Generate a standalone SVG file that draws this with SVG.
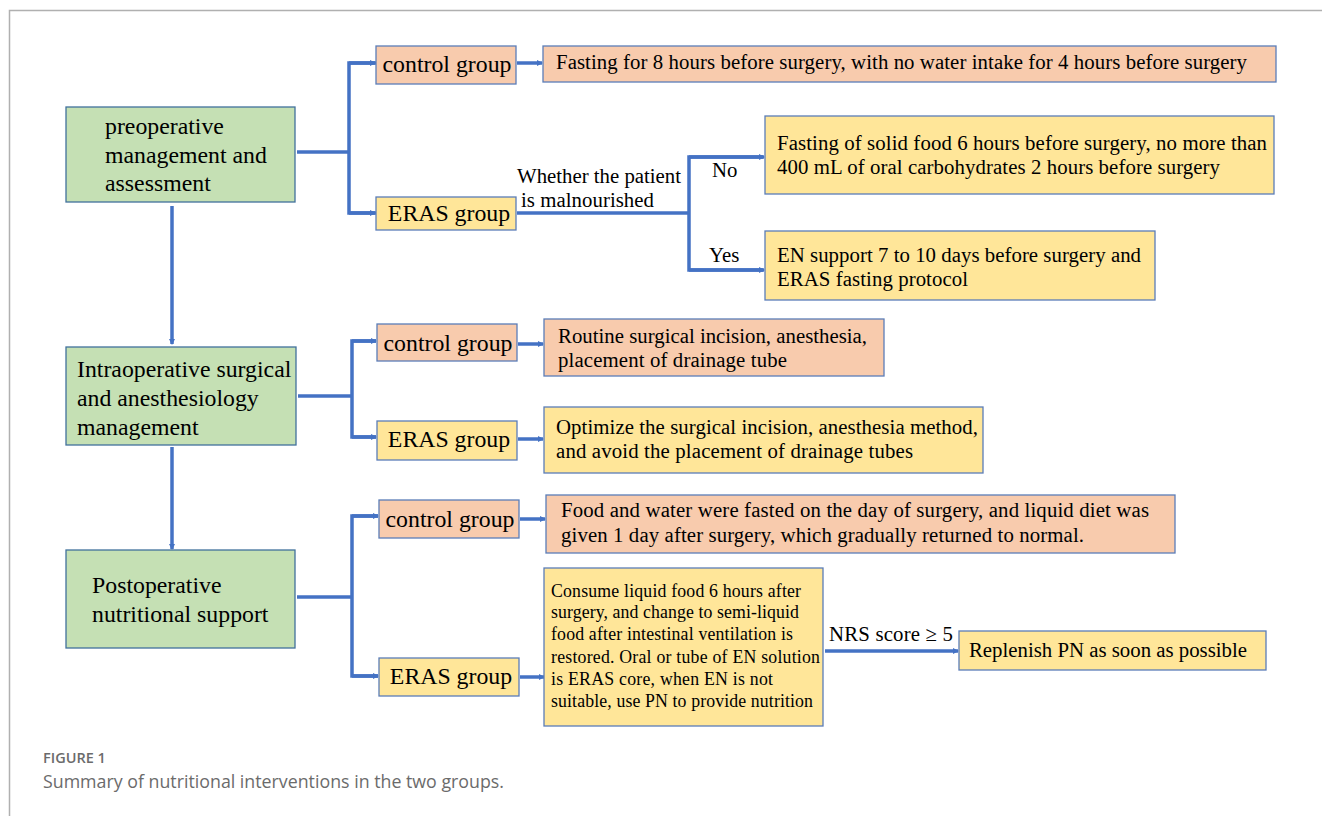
<svg xmlns="http://www.w3.org/2000/svg" width="1322" height="816" viewBox="0 0 1322 816">
<defs>
<style>
.g{fill:#C5E0B4;stroke:#41719C;stroke-width:1.3}
.o{fill:#F8CBAD;stroke:#5B7DB8;stroke-width:1.3}
.y{fill:#FFE699;stroke:#5B7DB8;stroke-width:1.3}
text{font-family:"Liberation Serif","Times New Roman",serif;fill:#000}
.big{font-size:23.8px}
.grp{font-size:23.8px}
.mid{font-size:20.8px}
.sm{font-size:17.8px}
.c{stroke:#4472C4;stroke-width:3.5;fill:none}
.cap{font-family:"Open Sans","Noto Sans",sans-serif;fill:#6b6b6b}
</style>
<marker id="ar" viewBox="0 0 6 6" refX="5" refY="3" markerWidth="6" markerHeight="6" markerUnits="userSpaceOnUse" orient="auto">
<path d="M0,0 L6,3 L0,6 z" fill="#4472C4"/>
</marker>
</defs>
<rect width="1322" height="816" fill="#fff"/>
<path d="M9.5,816 V10.5 H1322" fill="none" stroke="#b0b0b0" stroke-width="1.5"/>

<g id="connectors">
<line class="c" x1="172" y1="206" x2="172" y2="344" marker-end="url(#ar)"/>
<line class="c" x1="172" y1="447" x2="172" y2="549" marker-end="url(#ar)"/>
<path class="c" d="M297,152 H349"/>
<path class="c" d="M376,63 H349 V213 H376"/>
<line class="c" x1="349" y1="63" x2="375" y2="63" marker-end="url(#ar)"/>
<line class="c" x1="349" y1="213" x2="375" y2="213" marker-end="url(#ar)"/>
<line class="c" x1="517" y1="63" x2="542" y2="63" marker-end="url(#ar)"/>
<path class="c" d="M517,213 H689"/>
<path class="c" d="M763,157 H689 V270 H763"/>
<line class="c" x1="689" y1="157" x2="764" y2="157" marker-end="url(#ar)"/>
<line class="c" x1="689" y1="270" x2="764" y2="270" marker-end="url(#ar)"/>
<path class="c" d="M298,396 H352"/>
<path class="c" d="M376,341 H352 V437 H376"/>
<line class="c" x1="352" y1="341" x2="376" y2="341" marker-end="url(#ar)"/>
<line class="c" x1="352" y1="437" x2="376" y2="437" marker-end="url(#ar)"/>
<line class="c" x1="518" y1="344" x2="543" y2="344" marker-end="url(#ar)"/>
<line class="c" x1="518" y1="439" x2="543" y2="439" marker-end="url(#ar)"/>
<path class="c" d="M297,597 H352"/>
<path class="c" d="M378,516 H352 V676 H378"/>
<line class="c" x1="352" y1="516" x2="378" y2="516" marker-end="url(#ar)"/>
<line class="c" x1="352" y1="676" x2="378" y2="676" marker-end="url(#ar)"/>
<line class="c" x1="520" y1="519" x2="545" y2="519" marker-end="url(#ar)"/>
<line class="c" x1="520" y1="677" x2="544" y2="677" marker-end="url(#ar)"/>
<line class="c" x1="825" y1="651" x2="958" y2="651" marker-end="url(#ar)"/>
</g>

<g id="n-pre">
<rect class="g" x="66" y="107" width="229" height="95"/>
<text class="big" x="105" y="134">preoperative</text>
<text class="big" x="105" y="163">management and</text>
<text class="big" x="105" y="191">assessment</text>
</g>
<g id="n-intra">
<rect class="g" x="66" y="347" width="230" height="98"/>
<text class="big" x="77" y="377">Intraoperative surgical</text>
<text class="big" x="77" y="406">and anesthesiology</text>
<text class="big" x="77" y="435">management</text>
</g>
<g id="n-post">
<rect class="g" x="66" y="550" width="229" height="98"/>
<text class="big" x="92" y="593">Postoperative</text>
<text class="big" x="92" y="622">nutritional support</text>
</g>

<g id="n-ctrl1">
<rect class="o" x="376" y="46" width="140" height="38"/>
<text class="grp" x="447" y="72" text-anchor="middle">control group</text>
</g>
<g id="n-eras1">
<rect class="y" x="376" y="197" width="140" height="33"/>
<text class="grp" x="449" y="221" text-anchor="middle">ERAS group</text>
</g>
<g id="n-fast">
<rect class="o" x="543" y="46" width="733" height="36"/>
<text class="mid" x="556" y="69" textLength="691">Fasting for 8 hours before surgery,  with no water intake  for 4 hours before surgery</text>
</g>
<g id="lbl-mal">
<text class="mid" x="517" y="183" textLength="164">Whether  the patient</text>
<text class="mid" x="521" y="207" textLength="133">is malnourished</text>
<text class="mid" x="712" y="177">No</text>
<text class="mid" x="709" y="262">Yes</text>
</g>
<g id="n-no">
<rect class="y" x="765" y="116" width="509" height="78"/>
<text class="mid" x="777" y="150" textLength="490">Fasting of solid food 6 hours before surgery, no more than</text>
<text class="mid" x="777" y="174" textLength="443">400 mL  of oral carbohydrates  2 hours before surgery</text>
</g>
<g id="n-yes">
<rect class="y" x="765" y="231" width="390" height="69"/>
<text class="mid" x="777" y="262" textLength="364">EN support 7 to 10 days  before surgery and</text>
<text class="mid" x="777" y="286" textLength="191">ERAS  fasting protocol</text>
</g>

<g id="n-ctrl2">
<rect class="o" x="377" y="324" width="140" height="37"/>
<text class="grp" x="448" y="351" text-anchor="middle">control group</text>
</g>
<g id="n-eras2">
<rect class="y" x="377" y="421" width="140" height="39"/>
<text class="grp" x="449" y="447" text-anchor="middle">ERAS group</text>
</g>
<g id="n-routine">
<rect class="o" x="544" y="319" width="340" height="57"/>
<text class="mid" x="558" y="343" textLength="309">Routine surgical incision, anesthesia,</text>
<text class="mid" x="558" y="367" textLength="229">placement  of drainage  tube</text>
</g>
<g id="n-opt">
<rect class="y" x="544" y="407" width="439" height="66"/>
<text class="mid" x="556" y="434" textLength="422">Optimize the surgical incision, anesthesia method,</text>
<text class="mid" x="556" y="458" textLength="357">and avoid the placement  of drainage  tubes</text>
</g>

<g id="n-ctrl3">
<rect class="o" x="379" y="500" width="140" height="38"/>
<text class="grp" x="450" y="527" text-anchor="middle">control group</text>
</g>
<g id="n-eras3">
<rect class="y" x="379" y="658" width="140" height="38"/>
<text class="grp" x="451" y="684" text-anchor="middle">ERAS group</text>
</g>
<g id="n-food">
<rect class="o" x="546" y="495" width="629" height="58"/>
<text class="mid" x="561" y="517" textLength="588">Food and water were fasted on the day of surgery, and liquid diet was</text>
<text class="mid" x="561" y="542" textLength="523">given  1 day after surgery, which gradually returned to normal.</text>
</g>
<g id="n-consume">
<rect class="y" x="544" y="568" width="279" height="158"/>
<text class="sm" x="551" y="597" textLength="250">Consume liquid  food 6 hours after</text>
<text class="sm" x="551" y="618" textLength="248">surgery, and change to semi-liquid</text>
<text class="sm" x="551" y="640" textLength="242">food after intestinal  ventilation  is</text>
<text class="sm" x="551" y="663" textLength="269">restored. Oral  or tube of EN solution</text>
<text class="sm" x="551" y="685" textLength="222">is ERAS core, when EN is not</text>
<text class="sm" x="551" y="707" textLength="262">suitable,  use PN to provide nutrition</text>
</g>
<g id="lbl-nrs">
<text class="mid" x="829" y="641" textLength="124">NRS score ≥ 5</text>
</g>
<g id="n-repl">
<rect class="y" x="959" y="631" width="307" height="39"/>
<text class="mid" x="969" y="657" textLength="278">Replenish  PN as soon as possible</text>
</g>

<g id="caption">
<text class="cap" x="43" y="763" font-size="14.5" font-weight="600">FIGURE 1</text>
<text class="cap" x="43" y="788" font-size="17.8">Summary of nutritional interventions in the two groups.</text>
</g>
</svg>
